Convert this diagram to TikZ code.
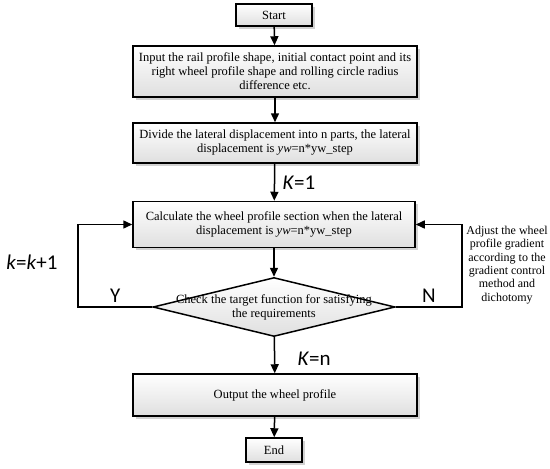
\documentclass[tikz,border=0pt]{standalone}
\usepackage{fontspec}
\setmainfont{Liberation Serif}
\newfontfamily\labelfont{Carlito}
\usetikzlibrary{arrows.meta,shapes.geometric,shadows,positioning}
\begin{document}
\begin{tikzpicture}
[x=1pt,y=-1pt,
  boxdecorate/.style={shape=rectangle,draw,line width=1.5pt,top color=white,bottom color=gray!25,
    drop shadow={shadow xshift=2.5pt,shadow yshift=-2.5pt,fill=gray!70,opacity=.5},
    align=center,inner sep=2pt,font=\fontsize{12.5}{14}\selectfont},%
  diamonddecorate/.style={shape=diamond,draw,line width=1.5pt,top color=white,bottom color=gray!25,inner sep=0pt},%
  linedecorate/.style={-{Triangle[length=9pt,width=8pt]},line width=1.5pt},%
  labeldecorate/.style={font=\labelfont\fontsize{21}{24}\selectfont}]
\useasboundingbox (0,0) rectangle (550,469);
% nodes or boxes
\node (start) at (274,15) [boxdecorate,minimum width=76pt,minimum height=22pt] {Start};
\node (input) at (275,71.5) [boxdecorate,minimum width=284pt,minimum height=51pt]
  {Input the rail profile shape, initial contact point and its\\right wheel profile shape and rolling circle radius\\difference etc.};
\node (divide) at (275,143) [boxdecorate,minimum width=284pt,minimum height=40pt]
  {Divide the lateral displacement into n parts, the lateral\\displacement is \textit{yw}=n*yw\_step};
\node (calc) at (274,224.5) [boxdecorate,minimum width=282pt,minimum height=46pt]
  {Calculate the wheel profile section when the lateral\\displacement is \textit{yw}=n*yw\_step};
\node (check) at (274,307) [diamonddecorate,minimum width=242pt,minimum height=59pt] {};
\node (checktext) at (check.center) [align=center,font=\fontsize{12.5}{14}\selectfont]
  {Check the target function for satisfying\\the requirements};
\node (output) at (275,395) [boxdecorate,minimum width=284pt,minimum height=42pt] {Output the wheel profile};
\node (end) at (274,450) [boxdecorate,minimum width=56pt,minimum height=24pt] {End};
\coordinate (yturn) at (78,307);
\coordinate (nturn) at (462,307);
% side texts
\node (inc) at (32,262) [labeldecorate] {\textit{k}=\textit{k}+1};
\node (adjust) at (507,265) [align=center,font=\fontsize{12}{13.3}\selectfont]
  {Adjust the wheel\\profile gradient\\according to the\\gradient control\\method and\\dichotomy};
% edges or arrows
\path
(start) edge[linedecorate] (input)
(input) edge[linedecorate] (divide)
(divide) edge[linedecorate] node[right,xshift=4pt,labeldecorate]{\textit{K}=1} (calc)
(calc) edge[linedecorate] (check)
(check) edge[linedecorate] node[right,xshift=19pt,yshift=-4pt,labeldecorate]{\textit{K}=n} (output)
(output) edge[linedecorate] (end);
\draw[linedecorate] (check.west) -- node[above,labeldecorate]{Y} (yturn) |- (calc.west);
\draw[linedecorate] (check.east) -- node[above,labeldecorate]{N} (nturn) |- (calc.east);
\end{tikzpicture}
\end{document}
